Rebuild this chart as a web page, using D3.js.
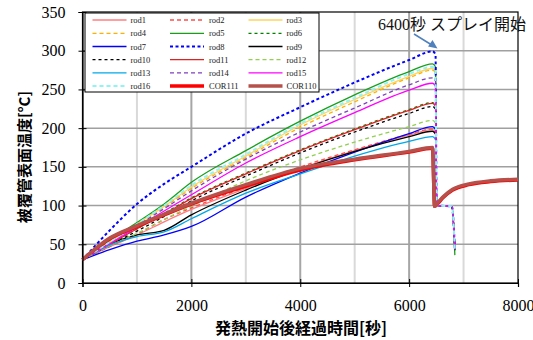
<!DOCTYPE html>
<html><head><meta charset="utf-8">
<script src="https://cdn.jsdelivr.net/npm/d3@7"></script>
<style>body{margin:0;background:#fff}svg{display:block}</style>
</head><body>
<svg id="c" width="533" height="340"></svg>
<script>
// ---- data ----
const riseTimes = [0, 500, 1000, 1500, 2000, 3000, 4000, 5000, 6000, 6430];
const rodDropTimes = [6485, 6505, 6785, 6840];
const corTimes = [6468, 6530, 6620, 6800, 7100, 7500, 8000];

const rod1  = [30,47,62,79,95,122,148,171,191,198];
const rod2  = [30,47,63,82,97,124,150,172,192,199];
const rod3  = [30,53,76,99,124,164,204,237,267,277];
const rod4  = [30,52,75,98,122,162,201,234,265,275];
const rod5  = [30,55,78,102,130,171,209,243,273,283];
const rod6  = [30,50,70,90,110,142,172,199,224,233];
const rod7  = [30,43,54,62,73,111,142,169,193,202];
const rod8  = [30,68,102,128,150,193,227,259,288,299];
const rod9  = [30,50,62,68,88,120,147,170,189,196];
const rod10 = [30,49,67,86,106,138,168,195,219,228];
const rod11 = [30,50,70,89,109,141,171,198,223,232];
const rod12 = [30,48,64,82,99,132,159,182,202,210];
const rod13 = [30,49,60,66,83,116,141,164,183,189];
const rod14 = [30,52,74,96,119,160,195,226,256,265];
const rod15 = [30,51,72,93,114,155,189,220,249,258];
const rod16 = [30,53,76,100,126,166,206,239,270,279];
const cor111 = [30,57,73,88,102,125,146,159,169,174];
const cor110 = [30,58,74,89,103,127,148,160,170,175];

const rodFlat = [100, 99];
const rodEnd = [45,44,43,44,36,42,47,45,44,43,46,44,45,43,44,43];
const corAfter = [99, 104, 111, 121, 128, 132, 134];
const corAfter111 = [99, 103, 110, 120, 127, 131, 133];

const seriesNames = ["rod1","rod2","rod3","rod4","rod5","rod6","rod7","rod8","rod9","rod10","rod11","rod12","rod13","rod14","rod15","rod16","COR111","COR110"];
const xTicks = [0,2000,4000,6000,8000];
const yTicks = [0,50,100,150,200,250,300,350];

// ---- styles ----
const styles = {
  rod1:{c:"#ff7c80",w:1.3,d:null}, rod2:{c:"#ff4d4d",w:1.3,d:"4,3"},
  rod3:{c:"#ffd45e",w:1.3,d:null}, rod4:{c:"#ffb000",w:1.3,d:"4,3"},
  rod5:{c:"#1a9e1a",w:1.3,d:null}, rod6:{c:"#008000",w:1.3,d:"3,3"},
  rod7:{c:"#0000ff",w:1.3,d:null}, rod8:{c:"#0000ff",w:2,d:"3,2.5"},
  rod9:{c:"#000000",w:1.3,d:null}, rod10:{c:"#000000",w:1.3,d:"3,3"},
  rod11:{c:"#e02020",w:1.3,d:null}, rod12:{c:"#92d050",w:1.3,d:"4,3"},
  rod13:{c:"#00a8e8",w:1.3,d:null}, rod14:{c:"#7f3fbf",w:1.3,d:"4,3"},
  rod15:{c:"#ff00ff",w:1.3,d:null}, rod16:{c:"#8ff4f4",w:2,d:"4,3"},
  COR111:{c:"#ff0000",w:3.5,d:null}, COR110:{c:"#b5504b",w:3.5,d:null}
};

const rodVals = [rod1,rod2,rod3,rod4,rod5,rod6,rod7,rod8,rod9,rod10,rod11,rod12,rod13,rod14,rod15,rod16];
const series = [];
rodVals.forEach((v,i)=>{
  const pts = riseTimes.map((t,j)=>[t,v[j]]);
  const pk = v[v.length-1];
  pts.push([rodDropTimes[0], pk-4]);
  pts.push([rodDropTimes[1], rodFlat[0]]);
  pts.push([rodDropTimes[2], rodFlat[1]]);
  pts.push([rodDropTimes[3], rodEnd[i]]);
  series.push({name:seriesNames[i], pts});
});
[[cor111,corAfter111,"COR111"],[cor110,corAfter,"COR110"]].forEach(([v,a,n])=>{
  const pts = riseTimes.map((t,j)=>[t,v[j]]);
  corTimes.forEach((t,j)=>pts.push([t,a[j]]));
  series.push({name:n, pts});
});

// ---- chart ----
const svg = d3.select("#c");
const x = d3.scaleLinear([0,8000],[82.5,518]);
const y = d3.scaleLinear([0,350],[283,12]);

// gridlines
const g = svg.append("g");
d3.range(1000,8000,1000).forEach(t=>{
  g.append("line").attr("x1",x(t)).attr("x2",x(t)).attr("y1",y(0)).attr("y2",y(350))
   .attr("stroke", t%2000===0 ? "#a6a6a6" : "#d9d9d9").attr("stroke-width",2);
});
d3.range(50,350,50).forEach(v=>{
  g.append("line").attr("x1",x(0)).attr("x2",x(8000)).attr("y1",y(v)).attr("y2",y(v))
   .attr("stroke","#a0a0a0").attr("stroke-width",1.5);
});
// border
svg.append("rect").attr("x",x(0)).attr("y",y(350)).attr("width",x(8000)-x(0)).attr("height",y(0)-y(350))
  .attr("fill","none").attr("stroke","#000").attr("stroke-width",1.2);

// lines
const line = d3.line().x(d=>x(d[0])).y(d=>y(d[1])).curve(d3.curveMonotoneX);
series.forEach(s=>{
  const st = styles[s.name];
  svg.append("path").attr("d",line(s.pts)).attr("fill","none")
    .attr("stroke",st.c).attr("stroke-width",st.w)
    .attr("stroke-dasharray",st.d).attr("stroke-linejoin","round");
});

// axes
const ax = svg.append("g").attr("transform",`translate(0,${y(0)})`)
  .call(d3.axisBottom(x).tickValues(xTicks).tickSize(4).tickFormat(d3.format("d")));
const ay = svg.append("g").attr("transform",`translate(${x(0)},0)`)
  .call(d3.axisLeft(y).tickValues(yTicks).tickSize(4).tickFormat(d3.format("d")));
[ax,ay].forEach(a=>{
  a.select(".domain").attr("stroke","#000").attr("stroke-width",1.2);
  a.selectAll("text").attr("font-family","'Liberation Serif','Times New Roman',serif")
    .attr("font-size",16).attr("fill","#000");
});
ax.selectAll(".tick line").attr("y1",-4).attr("y2",4).attr("stroke","#000");
ax.selectAll(".tick text").attr("y",17);
ay.selectAll(".tick line").attr("x1",-4).attr("x2",4).attr("stroke","#000");
ay.selectAll(".tick text").attr("x",-17);

// axis titles
svg.append("text").attr("x",301).attr("y",327).attr("text-anchor","middle")
  .attr("dominant-baseline","central").attr("font-family","'Noto Sans CJK JP',sans-serif")
  .attr("font-weight","bold").attr("font-size",16).text("発熱開始後経過時間[秒]");
svg.append("text").attr("transform","translate(23.5,157) rotate(-90)").attr("text-anchor","middle")
  .attr("dominant-baseline","central").attr("font-family","'Noto Sans CJK JP',sans-serif")
  .attr("font-weight","bold").attr("font-size",15).text("被覆管表面温度[°C]");

// annotation
svg.append("text").attr("x",378).attr("y",30)
  .attr("font-family","'Liberation Serif','Noto Sans CJK JP',serif").attr("font-size",16)
  .attr("fill","#111").text("6400秒 スプレイ開始");
svg.append("line").attr("x1",414).attr("y1",34).attr("x2",431).attr("y2",44.5)
  .attr("stroke","#4f81bd").attr("stroke-width",1.5);
svg.append("path").attr("d","M437.5,48.5 L428,46.5 L432.5,40 Z").attr("fill","#4f81bd");

// legend
const lg = svg.append("g");
lg.append("rect").attr("x",85).attr("y",13).attr("width",234).attr("height",79)
  .attr("fill","#fff").attr("stroke","#000").attr("stroke-width",1);
const colLine = [92.5,170,248.5], colText = [130.5,209,286.5];
const rowY = [20,33.3,46.5,59.7,72.8,86];
seriesNames.forEach((n,i)=>{
  const c = i%3, r = Math.floor(i/3), st = styles[n];
  lg.append("line").attr("x1",colLine[c]).attr("x2",colLine[c]+34).attr("y1",rowY[r]).attr("y2",rowY[r])
    .attr("stroke",st.c).attr("stroke-width",st.w).attr("stroke-dasharray",st.d);
  lg.append("text").attr("x",colText[c]).attr("y",rowY[r]).attr("dominant-baseline","central")
    .attr("font-family","'Liberation Serif','Times New Roman',serif").attr("font-size",8.5)
    .attr("fill","#222").text(n);
});
</script>
</body></html>
